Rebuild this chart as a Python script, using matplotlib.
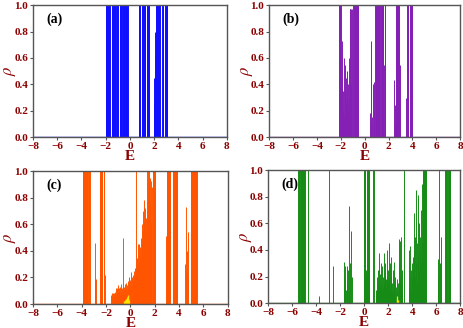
import matplotlib.pyplot as plt

plt.rcParams["mathtext.fontset"] = "stix"

# energies where rho reaches the top (1.0), and partial peaks (E, rho)
a_full = [-1.99, -1.96, -1.93, -1.90, -1.87, -1.84, -1.81, -1.78, -1.75, -1.72, -1.69, -1.66,
          -1.47, -1.44, -1.41, -1.38, -1.35, -1.32, -1.29, -1.26, -1.23, -1.20, -1.17,
          -1.08, -1.05, -1.02, -0.99, -0.85, -0.82, -0.79, -0.76, -0.73, -0.70,
          -0.62, -0.59, -0.56, -0.53, -0.50, -0.47, -0.44, -0.41, -0.38, -0.35, -0.32,
          -0.29, -0.26, -0.23, -0.20, -0.17,
          0.72, 0.75, 0.78, 0.81, 0.84, 0.97, 1.00, 1.03, 1.06, 1.09, 1.12, 1.15, 1.18,
          1.21, 1.24, 1.27, 1.37, 1.40, 1.43, 1.46, 1.49, 1.52, 1.55, 1.58, 1.61,
          2.12, 2.16, 2.20, 2.26, 2.29, 2.32, 2.35, 2.38, 2.41, 2.44, 2.47,
          2.68, 2.71, 2.74, 2.77, 2.92, 2.95, 2.98, 3.01, 3.04, 3.07, 3.10]
a_peak_E = [0.87, 1.96, 2.00, 2.04, 2.08]
a_peak_rho = [0.32, 0.27, 0.45, 0.62, 0.80]

b_full = [-2.19, -2.16, -2.13, -2.10, -2.06, -2.02,
          -0.96, -0.93, -0.90, -0.87, -0.84, -0.81, -0.78, -0.75, -0.72, -0.69, -0.66,
          -0.63, -0.60, -0.57,
          0.88, 0.91, 0.94, 0.97, 1.00, 1.03, 1.09, 1.12, 1.15, 1.18, 1.21, 1.24,
          1.39, 1.42, 1.45, 1.48, 1.51, 1.54, 1.57, 1.66, 1.69, 1.72,
          2.60, 2.63, 2.66, 2.69, 2.72, 2.75, 2.78, 2.81, 2.84, 2.87, 2.90,
          3.53, 3.56, 3.59, 3.62, 3.65, 3.80, 3.83, 3.86, 3.89, 3.92, 3.95, 3.98]
b_peak_E = [-2.04, -1.99, -1.96, -1.93, -1.90, -1.87, -1.84, -1.81, -1.78, -1.75, -1.72,
            -1.69, -1.66, -1.63, -1.60, -1.57, -1.54, -1.51, -1.48, -1.45, -1.42, -1.39,
            -1.36, -1.33, -1.30, -1.27, -1.24, -1.21, -1.18, -1.15, -1.12, -1.09,
            0.44, 0.50, 0.56, 0.62, 0.68, 0.74, 0.80, 1.62, 2.45, 2.50, 2.55, 2.93, 3.45, 3.50]
b_peak_rho = [0.80, 0.45, 0.30, 0.73, 0.25, 0.45, 0.20, 0.12, 0.35, 0.60, 0.15,
              0.55, 0.35, 0.08, 0.45, 0.25, 0.15, 0.50, 0.30, 0.05, 0.20, 0.40,
              0.10, 0.30, 0.60, 0.97, 0.97, 0.97, 0.97, 0.40, 0.20, 0.97,
              0.18, 0.73, 0.10, 0.15, 0.40, 0.42, 0.20, 0.55, 0.43, 0.24, 0.10, 0.55, 0.30, 0.20]

c_full = [-3.90, -3.87, -3.84, -3.81, -3.78, -3.75, -3.72, -3.69, -3.66, -3.63, -3.60,
          -3.57, -3.54, -3.51, -3.43, -3.40, -3.37, -3.33,
          -2.53, -2.50, -2.47, -2.44, -2.41, -2.38, -2.35, -2.32, -2.20, -2.17,
          0.48, 1.38, 1.41, 1.50, 1.53, 1.56,
          1.85, 1.88, 1.91, 1.94, 1.97, 2.00, 2.03,
          2.98, 3.01, 3.04, 3.07, 3.10, 3.13, 3.16, 3.19, 3.22, 3.25, 3.28,
          3.46, 3.49, 3.52, 3.55, 3.58, 3.61, 3.64, 3.67, 3.70, 3.73, 3.76, 3.79, 3.82,
          4.97, 5.00, 5.03, 5.06, 5.09, 5.12, 5.15, 5.18, 5.21, 5.24, 5.27, 5.30, 5.33,
          5.36, 5.39, 5.42, 5.45]
c_peak_E = [-2.94, -2.89, -2.86, -2.06,
            -1.57, -1.53, -1.49, -1.45, -1.41, -1.37, -1.33, -1.29, -1.25, -1.21, -1.17,
            -1.13, -1.09, -1.05, -1.01, -0.97, -0.93, -0.89, -0.85, -0.81, -0.77, -0.73,
            -0.69, -0.65, -0.61, -0.57, -0.53, -0.49, -0.45, -0.41, -0.37, -0.33, -0.29,
            -0.25, -0.21, -0.17, -0.13, -0.09, -0.05, -0.01, 0.03, 0.07, 0.11, 0.15,
            0.19, 0.23, 0.27, 0.31, 0.35, 0.39, 0.43, 0.53, 0.57, 0.61, 0.65, 0.69,
            0.73, 0.77, 0.81, 0.85, 0.89, 0.93, 0.97, 1.01, 1.05, 1.09, 1.13, 1.17,
            1.21, 1.25, 1.29, 1.33, 1.44, 1.47, 1.59, 1.62, 1.68, 1.72, 1.77, 2.94,
            4.50, 4.55, 4.60, 4.64, 4.70, 4.77]
c_peak_rho = [0.46, 0.19, 0.19, 0.22,
              0.07, 0.08, 0.05, 0.08, 0.06, 0.08, 0.05, 0.09, 0.08, 0.12, 0.07,
              0.10, 0.12, 0.08, 0.14, 0.10, 0.12, 0.08, 0.13, 0.10, 0.15, 0.11,
              0.09, 0.12, 0.50, 0.14, 0.10, 0.13, 0.15, 0.11, 0.16, 0.12, 0.10,
              0.14, 0.17, 0.12, 0.20, 0.15, 0.13, 0.18, 0.24, 0.16, 0.20, 0.14,
              0.22, 0.18, 0.25, 0.20, 0.27, 0.22, 0.30, 0.28, 0.35, 0.30, 0.45, 0.32,
              0.45, 0.38, 0.43, 0.35, 0.50, 0.45, 0.60, 0.55, 0.70, 0.62, 0.78, 0.66,
              0.72, 0.55, 0.65, 0.70, 0.85, 0.90, 0.95, 0.75, 0.93, 0.60, 0.88, 0.51,
              0.30, 0.25, 0.73, 0.40, 0.20, 0.54]
c_yel_E = [-0.50, -0.42, -0.35, -0.28, -0.22, -0.18, -0.12]
c_yel_rho = [0.02, 0.03, 0.04, 0.05, 0.07, 0.06, 0.03]

d_full = [-5.50, -5.47, -5.44, -5.41, -5.38, -5.30, -5.27, -5.24, -5.21, -5.18, -5.15,
          -5.12, -5.09, -5.02, -4.99, -4.96, -4.67, -2.95,
          -0.02, 0.01, 0.04, 0.07, 0.10, 0.22, 0.25, 0.28, 0.31, 0.34, 0.37, 0.40, 0.43,
          0.76, 0.79, 3.29,
          4.87, 4.90, 4.93, 4.96, 4.99, 5.02, 5.05, 5.08, 5.11, 5.14, 6.25,
          6.75, 6.78, 6.81, 6.84, 6.87, 7.00, 7.03, 7.06, 7.09, 7.12, 7.15]
d_peak_E = [-3.73, -2.60, -1.70, -1.66, -1.62, -1.58, -1.54, -1.47, -1.43, -1.36, -1.30,
            -1.23, -1.19, -1.10, -1.06, 0.13, 0.16,
            0.95, 0.99, 1.03, 1.07, 1.11, 1.15, 1.19, 1.23, 1.27, 1.31, 1.35, 1.39, 1.43,
            1.47, 1.51, 1.55, 1.59, 1.63, 1.67, 1.71, 1.75, 1.79, 1.83, 1.87, 1.91, 1.95,
            1.99, 2.03, 2.07, 2.11, 2.15, 2.19, 2.23, 2.27, 2.31, 2.35, 2.39, 2.43, 2.47,
            2.51, 2.55, 2.59, 2.63, 2.67, 2.71, 2.75, 2.79, 2.83, 2.87, 2.91, 2.95, 2.99,
            3.03, 3.07, 3.11, 3.15,
            3.70, 3.74, 3.78, 3.82, 3.86, 3.90, 3.94, 3.98, 4.02, 4.06, 4.10, 4.14, 4.18,
            4.22, 4.26, 4.30, 4.34, 4.38, 4.42, 4.46, 4.50, 4.54, 4.58, 4.62, 4.66, 4.70,
            4.74, 4.78, 4.82, 6.12, 6.16, 6.30, 6.38, 6.42]
d_peak_rho = [0.05, 0.28, 0.31, 0.20, 0.28, 0.15, 0.10, 0.28, 0.15, 0.25, 0.10,
              0.73, 0.30, 0.54, 0.20, 0.25, 0.20,
              0.10, 0.05, 0.20, 0.12, 0.15, 0.25, 0.08, 0.38, 0.18, 0.12, 0.22, 0.30, 0.15,
              0.28, 0.10, 0.20, 0.12, 0.38, 0.15, 0.22, 0.30, 0.12, 0.18, 0.40, 0.20, 0.15,
              0.25, 0.45, 0.18, 0.10, 0.30, 0.20, 0.12, 0.35, 0.15, 0.08, 0.25, 0.10, 0.31,
              0.15, 0.20, 0.08, 0.12, 0.05, 0.18, 0.10, 0.06, 0.15, 0.48, 0.30, 0.20, 0.47,
              0.15, 0.50, 0.25, 0.10,
              0.12, 0.40, 0.20, 0.43, 0.25, 0.10, 0.30, 0.20, 0.15, 0.35, 0.25, 0.68, 0.40,
              0.20, 0.50, 0.85, 0.30, 0.45, 0.15, 0.81, 0.35, 0.60, 0.25, 0.40, 0.50, 0.30,
              0.70, 0.45, 0.90, 0.33, 0.20, 0.30, 0.50, 0.30]
d_yel_E = [2.70, 2.74, 2.78]
d_yel_rho = [0.03, 0.05, 0.02]

panels = [
    ("(a)", "#1010FF", a_full, a_peak_E, a_peak_rho, [], []),
    ("(b)", "#8420B4", b_full, b_peak_E, b_peak_rho, [], []),
    ("(c)", "#FF5500", c_full, c_peak_E, c_peak_rho, c_yel_E, c_yel_rho),
    ("(d)", "#168C16", d_full, d_peak_E, d_peak_rho, d_yel_E, d_yel_rho),
]

dark_red = "#8B0000"
fig = plt.figure(figsize=(4.64, 3.28), dpi=100)
boxes = [[0.071, 0.582, 0.418, 0.402], [0.580, 0.582, 0.412, 0.402],
         [0.071, 0.073, 0.420, 0.405], [0.578, 0.076, 0.414, 0.405]]

for box, (lab, col, full, pe, pr, ye, yr) in zip(boxes, panels):
    ax = fig.add_axes(box)
    ax.vlines(full, 0, 1.0, colors=col, linewidth=0.7)
    ax.vlines(pe, 0, pr, colors=col, linewidth=0.7)
    if ye:
        ax.vlines(ye, 0, yr, colors="#FFE400", linewidth=0.9)
    ax.axhline(0, color=col, linewidth=1.0)
    ax.set_xlim(-8, 8)
    ax.set_ylim(0, 1)
    ax.set_xticks(range(-8, 9, 2))
    ax.set_yticks([0, 0.2, 0.4, 0.6, 0.8, 1.0])
    ax.set_yticklabels(["0.0", "0.2", "0.4", "0.6", "0.8", "1.0"])
    for s in ax.spines.values():
        s.set_color("#555555")
        s.set_linewidth(1.0)
    ax.tick_params(direction="out", length=2.5, width=0.8, color="#555555",
                   labelcolor=dark_red, labelsize=8, pad=1)
    for t in ax.get_xticklabels() + ax.get_yticklabels():
        t.set_fontfamily("Liberation Serif")
        t.set_fontweight("bold")
    ax.set_xlabel("E", fontsize=11, fontweight="bold", color=dark_red,
                  family="Liberation Serif", labelpad=-1)
    ax.set_ylabel(r"$\rho$", fontsize=12, color=dark_red)
    ax.yaxis.set_label_coords(-0.075, 0.5)
    ax.text(0.07, 0.87, lab, transform=ax.transAxes, fontsize=10, fontweight="bold",
            family="Liberation Serif")

fig.savefig("out.png", dpi=100)
